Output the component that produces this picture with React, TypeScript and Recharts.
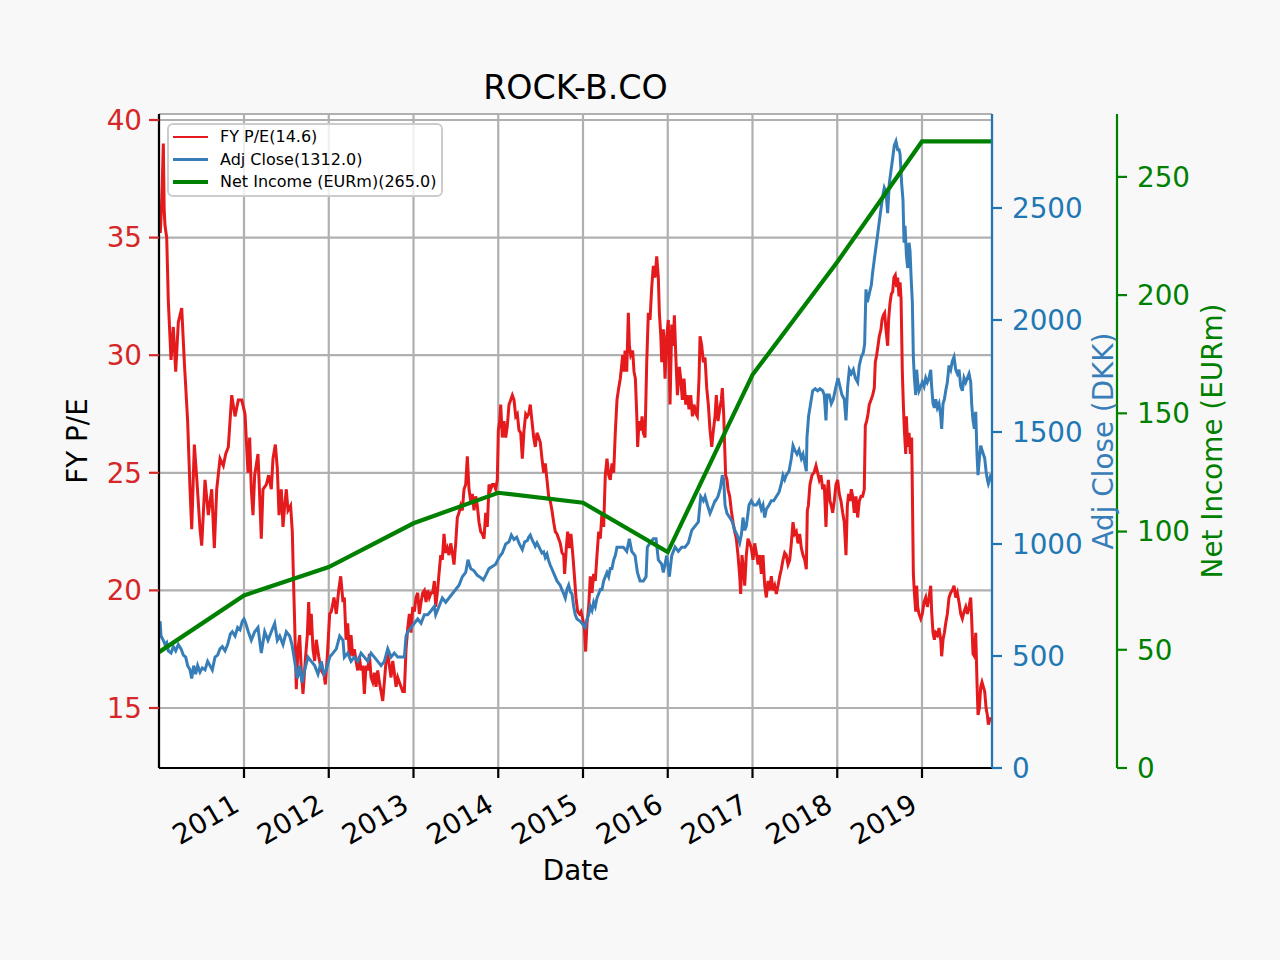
import { LineChart, Line, XAxis, YAxis, CartesianGrid } from 'recharts'

const FONT = '"DejaVu Sans", Verdana, sans-serif'

// x is a decimal year
const T0 = 2009.997
const T1 = 2019.826

const yearTicks = [2011, 2012, 2013, 2014, 2015, 2016, 2017, 2018, 2019]
const peTicks = [15, 20, 25, 30, 35, 40]
const closeTicks = [0, 500, 1000, 1500, 2000, 2500]
const niTicks = [0, 50, 100, 150, 200, 250]

const fyPE: [number, number][] = [
  [2009.997, 36.0], [2010.012, 35.2], [2010.021, 35.8], [2010.035, 37.2], [2010.048, 39.0], [2010.058, 36.2],
  [2010.068, 35.5], [2010.088, 35.0], [2010.107, 32.3], [2010.139, 29.8], [2010.166, 31.2], [2010.194, 29.3],
  [2010.225, 31.4], [2010.265, 32.0], [2010.296, 29.7], [2010.335, 27.2], [2010.363, 24.3], [2010.383, 22.6],
  [2010.414, 26.2], [2010.442, 24.8], [2010.481, 22.6], [2010.501, 21.9], [2010.540, 24.7], [2010.579, 23.2],
  [2010.619, 24.3], [2010.650, 21.8], [2010.678, 24.3], [2010.717, 25.6], [2010.756, 25.3], [2010.784, 25.8],
  [2010.815, 26.1], [2010.855, 28.3], [2010.894, 27.4], [2010.933, 28.1], [2010.973, 28.1], [2011.012, 27.5],
  [2011.047, 25.0], [2011.067, 26.5], [2011.086, 24.3], [2011.106, 23.2], [2011.126, 24.9], [2011.165, 25.8],
  [2011.185, 24.0], [2011.204, 22.2], [2011.224, 24.3], [2011.263, 24.5], [2011.291, 24.9], [2011.322, 24.3],
  [2011.342, 25.6], [2011.370, 26.2], [2011.393, 25.2], [2011.413, 23.2], [2011.440, 24.3], [2011.460, 22.7],
  [2011.480, 23.6], [2011.499, 24.3], [2011.519, 23.4], [2011.550, 23.6], [2011.570, 22.5], [2011.582, 20.7],
  [2011.598, 18.6], [2011.617, 15.8], [2011.637, 17.5], [2011.657, 18.1], [2011.676, 16.6], [2011.696, 15.6],
  [2011.723, 17.0], [2011.747, 18.1], [2011.763, 19.5], [2011.779, 18.1], [2011.794, 19.0], [2011.814, 17.5],
  [2011.834, 17.0], [2011.853, 17.9], [2011.881, 17.2], [2011.912, 16.6], [2011.944, 16.4], [2011.960, 16.0],
  [2011.983, 17.2], [2012.011, 19.0], [2012.030, 19.1], [2012.062, 19.7], [2012.089, 19.0], [2012.117, 20.0],
  [2012.141, 20.6], [2012.168, 19.5], [2012.184, 19.7], [2012.204, 17.9], [2012.224, 18.6], [2012.243, 17.2],
  [2012.263, 18.1], [2012.283, 17.2], [2012.302, 17.5], [2012.322, 17.0], [2012.342, 16.6], [2012.361, 17.2],
  [2012.381, 16.6], [2012.401, 16.8], [2012.420, 15.6], [2012.440, 16.8], [2012.460, 16.6], [2012.479, 17.3],
  [2012.499, 16.3], [2012.519, 16.1], [2012.538, 16.5], [2012.558, 15.9], [2012.578, 16.6], [2012.597, 16.1],
  [2012.617, 15.7], [2012.637, 15.3], [2012.656, 16.1], [2012.676, 17.0], [2012.696, 17.3], [2012.715, 16.8],
  [2012.735, 16.3], [2012.755, 17.0], [2012.774, 16.5], [2012.794, 15.9], [2012.814, 16.3], [2012.833, 16.1],
  [2012.853, 15.9], [2012.873, 15.7], [2012.892, 15.7], [2012.912, 17.5], [2012.932, 18.4], [2012.951, 19.0],
  [2012.971, 18.2], [2012.991, 19.3], [2013.010, 19.1], [2013.030, 19.7], [2013.050, 19.9], [2013.069, 19.0],
  [2013.089, 19.5], [2013.109, 19.9], [2013.128, 20.0], [2013.148, 19.5], [2013.168, 20.0], [2013.187, 19.7],
  [2013.207, 19.9], [2013.227, 19.9], [2013.246, 20.4], [2013.262, 19.3], [2013.281, 19.9], [2013.301, 20.7],
  [2013.321, 21.5], [2013.340, 21.3], [2013.360, 22.4], [2013.380, 21.6], [2013.399, 21.8], [2013.419, 21.5],
  [2013.439, 22.0], [2013.458, 21.6], [2013.478, 21.1], [2013.498, 22.0], [2013.517, 23.1], [2013.537, 23.3],
  [2013.557, 23.6], [2013.576, 23.4], [2013.596, 24.3], [2013.616, 24.5], [2013.635, 25.7], [2013.655, 24.3],
  [2013.675, 23.8], [2013.694, 24.1], [2013.714, 23.4], [2013.734, 24.0], [2013.753, 23.6], [2013.773, 22.9],
  [2013.793, 22.5], [2013.812, 22.4], [2013.832, 22.2], [2013.852, 23.3], [2013.871, 22.7], [2013.891, 24.5],
  [2013.911, 24.3], [2013.930, 24.5], [2013.950, 24.5], [2013.970, 24.3], [2013.989, 24.7], [2014.001, 26.8],
  [2014.017, 27.2], [2014.029, 27.9], [2014.048, 26.5], [2014.068, 27.2], [2014.088, 26.5], [2014.107, 27.0],
  [2014.127, 27.9], [2014.147, 28.1], [2014.166, 28.3], [2014.186, 28.1], [2014.206, 27.4], [2014.225, 27.5],
  [2014.245, 26.8], [2014.265, 26.7], [2014.284, 25.6], [2014.304, 26.8], [2014.324, 27.5], [2014.343, 27.4],
  [2014.359, 27.5], [2014.378, 27.9], [2014.398, 27.2], [2014.418, 26.5], [2014.437, 26.1], [2014.457, 26.7],
  [2014.477, 26.5], [2014.496, 26.3], [2014.516, 25.6], [2014.536, 25.0], [2014.555, 25.4], [2014.575, 24.7],
  [2014.595, 24.0], [2014.614, 23.8], [2014.634, 23.4], [2014.654, 22.9], [2014.673, 22.5], [2014.693, 22.4],
  [2014.713, 22.2], [2014.732, 22.0], [2014.752, 21.6], [2014.772, 21.5], [2014.783, 20.7], [2014.803, 21.8],
  [2014.819, 22.5], [2014.839, 21.8], [2014.858, 22.4], [2014.878, 21.6], [2014.897, 20.7], [2014.917, 19.7],
  [2014.937, 19.1], [2014.957, 19.0], [2014.976, 19.1], [2014.996, 18.8], [2015.016, 18.4], [2015.031, 17.4],
  [2015.047, 18.6], [2015.067, 19.3], [2015.086, 20.6], [2015.106, 19.9], [2015.126, 20.7], [2015.145, 20.4],
  [2015.165, 21.5], [2015.185, 22.5], [2015.204, 22.2], [2015.224, 23.3], [2015.244, 22.7], [2015.263, 24.9],
  [2015.283, 25.6], [2015.303, 24.9], [2015.322, 24.7], [2015.342, 25.4], [2015.362, 25.0], [2015.381, 26.7],
  [2015.401, 28.1], [2015.421, 28.6], [2015.440, 29.0], [2015.460, 29.7], [2015.468, 30.0], [2015.484, 29.3],
  [2015.496, 30.2], [2015.516, 29.3], [2015.535, 31.8], [2015.547, 30.4], [2015.563, 30.0], [2015.586, 30.2],
  [2015.602, 29.3], [2015.618, 29.0], [2015.634, 27.5], [2015.645, 26.1], [2015.661, 27.2], [2015.681, 26.8],
  [2015.697, 27.4], [2015.712, 26.7], [2015.732, 26.5], [2015.752, 29.7], [2015.771, 31.8], [2015.791, 31.5],
  [2015.811, 32.9], [2015.830, 33.8], [2015.850, 33.3], [2015.870, 34.2], [2015.889, 33.3], [2015.901, 31.8],
  [2015.917, 30.9], [2015.929, 29.7], [2015.948, 31.1], [2015.968, 29.0], [2015.988, 30.8], [2016.007, 31.5],
  [2016.027, 27.9], [2016.047, 31.3], [2016.066, 30.4], [2016.078, 31.7], [2016.098, 29.7], [2016.114, 28.3],
  [2016.137, 29.5], [2016.153, 29.0], [2016.172, 28.1], [2016.192, 29.0], [2016.212, 27.9], [2016.231, 28.3],
  [2016.251, 27.7], [2016.271, 28.3], [2016.291, 27.4], [2016.310, 27.9], [2016.334, 27.5], [2016.349, 27.4],
  [2016.369, 29.0], [2016.381, 30.8], [2016.401, 30.4], [2016.420, 29.7], [2016.440, 29.9], [2016.460, 28.6],
  [2016.479, 27.9], [2016.499, 26.8], [2016.519, 26.1], [2016.538, 26.8], [2016.558, 27.4], [2016.573, 28.3],
  [2016.593, 27.2], [2016.613, 27.7], [2016.632, 28.1], [2016.644, 28.6], [2016.660, 27.5], [2016.672, 26.1],
  [2016.683, 24.9], [2016.699, 24.7], [2016.711, 24.3], [2016.731, 24.0], [2016.750, 23.4], [2016.770, 22.9],
  [2016.790, 22.5], [2016.809, 22.2], [2016.829, 21.5], [2016.849, 20.6], [2016.860, 19.85], [2016.876, 21.5],
  [2016.888, 21.1], [2016.908, 20.2], [2016.927, 21.5], [2016.947, 22.2], [2016.967, 22.0], [2016.986, 21.8],
  [2017.006, 21.3], [2017.026, 22.0], [2017.045, 21.6], [2017.065, 21.1], [2017.085, 21.5], [2017.104, 20.7],
  [2017.124, 21.5], [2017.144, 20.2], [2017.163, 19.7], [2017.183, 20.4], [2017.203, 20.0], [2017.222, 20.6],
  [2017.242, 20.0], [2017.262, 20.2], [2017.281, 19.85], [2017.301, 20.2], [2017.321, 20.6], [2017.340, 20.9],
  [2017.360, 21.3], [2017.380, 21.6], [2017.399, 21.5], [2017.419, 21.1], [2017.439, 21.3], [2017.458, 22.0],
  [2017.478, 22.9], [2017.498, 22.4], [2017.517, 22.5], [2017.537, 22.0], [2017.557, 22.4], [2017.576, 21.8],
  [2017.596, 21.5], [2017.616, 21.3], [2017.635, 20.9], [2017.647, 23.4], [2017.659, 23.6], [2017.678, 24.5],
  [2017.702, 24.9], [2017.725, 25.0], [2017.749, 25.3], [2017.769, 25.0], [2017.788, 24.7], [2017.808, 24.9],
  [2017.828, 24.3], [2017.847, 24.5], [2017.867, 22.7], [2017.879, 24.0], [2017.895, 24.7], [2017.914, 23.8],
  [2017.930, 23.6], [2017.946, 23.3], [2017.965, 23.8], [2017.985, 24.5], [2018.005, 24.7], [2018.024, 24.1],
  [2018.044, 23.8], [2018.064, 23.3], [2018.083, 22.9], [2018.103, 21.5], [2018.119, 23.6], [2018.134, 24.1],
  [2018.150, 23.8], [2018.166, 24.3], [2018.182, 24.0], [2018.201, 23.3], [2018.221, 24.0], [2018.241, 23.1],
  [2018.260, 23.8], [2018.280, 24.0], [2018.300, 24.0], [2018.319, 24.3], [2018.331, 27.0], [2018.347, 27.2],
  [2018.363, 27.5], [2018.378, 27.9], [2018.398, 28.1], [2018.418, 28.3], [2018.437, 28.6], [2018.449, 29.7],
  [2018.465, 30.0], [2018.481, 30.4], [2018.496, 30.8], [2018.516, 31.1], [2018.528, 31.5], [2018.543, 31.7],
  [2018.559, 31.8], [2018.575, 31.1], [2018.595, 30.4], [2018.606, 31.5], [2018.622, 32.2], [2018.638, 32.6],
  [2018.654, 32.7], [2018.669, 33.3], [2018.685, 33.4], [2018.701, 32.9], [2018.713, 33.3], [2018.729, 32.5],
  [2018.741, 33.1], [2018.753, 32.4], [2018.768, 29.3], [2018.780, 27.9], [2018.792, 26.8], [2018.808, 25.8],
  [2018.816, 27.4], [2018.831, 26.1], [2018.847, 26.7], [2018.863, 25.8], [2018.878, 26.5], [2018.886, 24.3],
  [2018.898, 20.7], [2018.910, 19.9], [2018.926, 19.1], [2018.937, 20.2], [2018.949, 19.3], [2018.965, 19.0],
  [2018.985, 18.8], [2019.004, 19.0], [2019.024, 19.5], [2019.044, 19.7], [2019.063, 19.3], [2019.083, 19.7],
  [2019.103, 20.2], [2019.114, 19.1], [2019.130, 18.2], [2019.146, 17.9], [2019.162, 18.2], [2019.181, 18.1],
  [2019.201, 18.4], [2019.221, 17.9], [2019.232, 17.2], [2019.248, 17.9], [2019.264, 18.2], [2019.280, 18.6],
  [2019.299, 19.0], [2019.319, 19.7], [2019.339, 19.9], [2019.358, 20.0], [2019.378, 20.2], [2019.398, 19.7],
  [2019.417, 19.9], [2019.437, 19.5], [2019.457, 19.0], [2019.476, 18.8], [2019.496, 19.1], [2019.516, 19.3],
  [2019.535, 19.0], [2019.555, 19.3], [2019.575, 19.7], [2019.586, 18.8], [2019.602, 17.3], [2019.618, 17.2],
  [2019.634, 18.2], [2019.649, 16.1], [2019.661, 14.7], [2019.677, 15.0], [2019.693, 15.9], [2019.708, 16.1],
  [2019.724, 15.9], [2019.740, 15.7], [2019.756, 15.0], [2019.771, 14.7], [2019.783, 14.3], [2019.799, 14.5],
  [2019.815, 14.6],
]

const adjClose: [number, number][] = [
  [2009.997, 627], [2010.010, 655], [2010.021, 589], [2010.048, 570], [2010.068, 551], [2010.088, 560],
  [2010.107, 523], [2010.139, 513], [2010.166, 542], [2010.194, 523], [2010.225, 551], [2010.257, 532],
  [2010.284, 504], [2010.312, 495], [2010.335, 457], [2010.363, 438], [2010.383, 400], [2010.406, 457],
  [2010.430, 419], [2010.453, 457], [2010.481, 428], [2010.508, 447], [2010.540, 438], [2010.571, 476],
  [2010.599, 457], [2010.626, 438], [2010.658, 495], [2010.689, 504], [2010.717, 532], [2010.744, 542],
  [2010.776, 523], [2010.807, 551], [2010.839, 598], [2010.862, 608], [2010.894, 589], [2010.925, 627],
  [2010.953, 617], [2010.980, 655], [2011.000, 665], [2011.020, 646], [2011.051, 608], [2011.086, 570],
  [2011.126, 608], [2011.165, 627], [2011.204, 513], [2011.244, 608], [2011.283, 570], [2011.322, 608],
  [2011.362, 646], [2011.393, 570], [2011.421, 589], [2011.460, 551], [2011.499, 608], [2011.539, 589],
  [2011.566, 551], [2011.598, 476], [2011.629, 400], [2011.657, 457], [2011.684, 381], [2011.716, 438],
  [2011.755, 495], [2011.794, 476], [2011.834, 457], [2011.873, 419], [2011.912, 476], [2011.944, 419],
  [2011.971, 438], [2012.011, 495], [2012.050, 513], [2012.089, 532], [2012.129, 589], [2012.168, 570],
  [2012.184, 495], [2012.224, 513], [2012.263, 476], [2012.302, 495], [2012.342, 476], [2012.381, 513],
  [2012.420, 495], [2012.460, 476], [2012.499, 513], [2012.538, 495], [2012.578, 476], [2012.617, 457],
  [2012.656, 476], [2012.696, 532], [2012.735, 495], [2012.774, 513], [2012.814, 495], [2012.853, 495],
  [2012.892, 495], [2012.912, 589], [2012.932, 608], [2012.971, 627], [2013.010, 646], [2013.050, 665],
  [2013.089, 646], [2013.128, 684], [2013.168, 684], [2013.207, 702], [2013.246, 721], [2013.262, 684],
  [2013.301, 721], [2013.340, 759], [2013.380, 740], [2013.419, 759], [2013.458, 778], [2013.498, 797],
  [2013.537, 816], [2013.576, 854], [2013.616, 873], [2013.643, 930], [2013.675, 890], [2013.714, 880],
  [2013.753, 860], [2013.793, 850], [2013.824, 840], [2013.852, 860], [2013.891, 890], [2013.930, 900],
  [2013.970, 910], [2014.009, 940], [2014.048, 960], [2014.088, 1000], [2014.127, 1010], [2014.155, 1040],
  [2014.186, 1020], [2014.218, 1030], [2014.249, 1000], [2014.284, 975], [2014.312, 1010], [2014.343, 1015],
  [2014.359, 1030], [2014.378, 1040], [2014.398, 1020], [2014.418, 1005], [2014.437, 990], [2014.457, 1005],
  [2014.477, 990], [2014.496, 975], [2014.516, 960], [2014.536, 965], [2014.555, 940], [2014.575, 955],
  [2014.595, 925], [2014.614, 905], [2014.654, 870], [2014.693, 835], [2014.732, 815], [2014.752, 795],
  [2014.772, 778], [2014.791, 759], [2014.811, 797], [2014.831, 816], [2014.850, 787], [2014.870, 778],
  [2014.890, 721], [2014.909, 684], [2014.929, 665], [2014.968, 655], [2014.988, 646], [2015.008, 636],
  [2015.027, 627], [2015.047, 665], [2015.067, 684], [2015.086, 721], [2015.106, 703], [2015.126, 740],
  [2015.145, 721], [2015.165, 759], [2015.185, 778], [2015.204, 797], [2015.224, 797], [2015.244, 835],
  [2015.263, 854], [2015.283, 873], [2015.303, 854], [2015.322, 891], [2015.342, 891], [2015.362, 929],
  [2015.381, 948], [2015.401, 986], [2015.440, 986], [2015.476, 986], [2015.516, 967], [2015.547, 1023],
  [2015.575, 967], [2015.614, 948], [2015.642, 873], [2015.673, 835], [2015.712, 835], [2015.744, 854],
  [2015.759, 986], [2015.791, 1005], [2015.830, 1023], [2015.862, 1023], [2015.889, 929], [2015.929, 910],
  [2015.948, 873], [2015.988, 948], [2016.019, 854], [2016.047, 948], [2016.086, 986], [2016.125, 967],
  [2016.165, 986], [2016.204, 986], [2016.243, 1005], [2016.283, 1061], [2016.322, 1080], [2016.361, 1099],
  [2016.389, 1212], [2016.420, 1193], [2016.440, 1212], [2016.468, 1174], [2016.499, 1137], [2016.519, 1155],
  [2016.558, 1193], [2016.565, 1193], [2016.593, 1212], [2016.621, 1250], [2016.644, 1307], [2016.660, 1288],
  [2016.676, 1174], [2016.699, 1137], [2016.731, 1118], [2016.762, 1099], [2016.790, 1061], [2016.817, 1042],
  [2016.849, 1005], [2016.869, 1042], [2016.888, 1118], [2016.908, 1061], [2016.927, 1080], [2016.959, 1174],
  [2016.986, 1193], [2017.014, 1174], [2017.045, 1174], [2017.077, 1193], [2017.104, 1155], [2017.124, 1174],
  [2017.144, 1118], [2017.163, 1155], [2017.195, 1174], [2017.222, 1193], [2017.250, 1193], [2017.281, 1212],
  [2017.313, 1231], [2017.340, 1269], [2017.360, 1307], [2017.380, 1288], [2017.399, 1307], [2017.431, 1325],
  [2017.458, 1382], [2017.478, 1439], [2017.498, 1420], [2017.525, 1401], [2017.549, 1420], [2017.576, 1382],
  [2017.596, 1401], [2017.616, 1363], [2017.635, 1325], [2017.643, 1476], [2017.662, 1571], [2017.686, 1627],
  [2017.710, 1684], [2017.741, 1693], [2017.769, 1684], [2017.796, 1693], [2017.828, 1684], [2017.847, 1665],
  [2017.867, 1552], [2017.879, 1665], [2017.906, 1665], [2017.930, 1627], [2017.953, 1646], [2017.985, 1703],
  [2018.009, 1741], [2018.032, 1703], [2018.056, 1665], [2018.083, 1646], [2018.103, 1552], [2018.123, 1703],
  [2018.142, 1778], [2018.166, 1760], [2018.190, 1778], [2018.213, 1741], [2018.241, 1722], [2018.260, 1797],
  [2018.284, 1835], [2018.307, 1854], [2018.323, 1892], [2018.339, 2137], [2018.355, 2080], [2018.378, 2118],
  [2018.402, 2156], [2018.418, 2213], [2018.437, 2269], [2018.457, 2326], [2018.477, 2383], [2018.496, 2439],
  [2018.516, 2496], [2018.536, 2552], [2018.555, 2590], [2018.575, 2571], [2018.595, 2477], [2018.614, 2609],
  [2018.634, 2666], [2018.654, 2722], [2018.673, 2779], [2018.693, 2798], [2018.713, 2760], [2018.729, 2760],
  [2018.741, 2741], [2018.760, 2609], [2018.776, 2534], [2018.788, 2345], [2018.800, 2420], [2018.816, 2288],
  [2018.831, 2232], [2018.847, 2345], [2018.859, 2307], [2018.871, 2194], [2018.886, 2080], [2018.898, 1835],
  [2018.910, 1741], [2018.926, 1665], [2018.937, 1778], [2018.949, 1722], [2018.965, 1684], [2018.985, 1703],
  [2019.004, 1722], [2019.024, 1703], [2019.044, 1741], [2019.063, 1722], [2019.083, 1741], [2019.103, 1778],
  [2019.114, 1703], [2019.130, 1627], [2019.146, 1608], [2019.162, 1646], [2019.181, 1608], [2019.201, 1627],
  [2019.221, 1571], [2019.232, 1514], [2019.248, 1627], [2019.264, 1646], [2019.280, 1684], [2019.299, 1722],
  [2019.319, 1797], [2019.339, 1778], [2019.358, 1816], [2019.378, 1835], [2019.398, 1778], [2019.417, 1760],
  [2019.437, 1778], [2019.457, 1703], [2019.476, 1684], [2019.496, 1741], [2019.516, 1722], [2019.535, 1741],
  [2019.555, 1760], [2019.575, 1722], [2019.586, 1627], [2019.602, 1552], [2019.618, 1514], [2019.634, 1590],
  [2019.649, 1401], [2019.661, 1307], [2019.677, 1382], [2019.693, 1439], [2019.708, 1420], [2019.724, 1401],
  [2019.740, 1382], [2019.756, 1325], [2019.771, 1288], [2019.783, 1269], [2019.799, 1288], [2019.815, 1312],
]

const netIncome: [number, number][] = [
  [2009.997, 49], [2011.0, 73], [2012.0, 85], [2013.0, 103.5], [2014.0, 116.4], [2015.0, 112.2],
  [2016.0, 91.3], [2017.0, 166.3], [2018.0, 214], [2019.0, 265], [2019.826, 265],
]

type Row = { t: number; pe?: number; close?: number; ni?: number }

const byT = new Map<number, Row>()
const put = (arr: [number, number][], key: 'pe' | 'close' | 'ni') =>
  arr.forEach(([t, v]) => {
    const r = byT.get(t) ?? { t }
    r[key] = v
    byT.set(t, r)
  })
put(fyPE, 'pe')
put(adjClose, 'close')
put(netIncome, 'ni')
const rows = [...byT.values()].sort((a, b) => a.t - b.t)

const RED = '#e41a1c'
const BLUE = '#377eb8'
const GREEN = '#008000'

function YearTick({ x, y, payload }: any) {
  return (
    <g transform={`translate(${x - 3},${y + 32}) rotate(-30)`}>
      <text textAnchor="end" fontSize={27.8} fontFamily={FONT} fill="#000">{payload.value}</text>
    </g>
  )
}

const legendRows = [
  { label: 'FY P/E(14.6)', color: RED, w: 2.8 },
  { label: 'Adj Close(1312.0)', color: BLUE, w: 2.8 },
  { label: 'Net Income (EURm)(265.0)', color: GREEN, w: 4.2 },
]

const abs = (left: number, top: number, extra: React.CSSProperties = {}): React.CSSProperties => ({
  position: 'absolute', left, top, whiteSpace: 'nowrap', lineHeight: 1, ...extra,
})

export default function App() {
  return (
    <div style={{ position: 'absolute', left: 0, top: 0, width: 1280, height: 960, background: '#f8f8f8', fontFamily: FONT }}>
      <LineChart width={1280} height={960} data={rows} margin={{ top: 114, right: 0, bottom: 0, left: 0 }}>
        <CartesianGrid xAxisId="x" yAxisId="pe" stroke="#b0b0b0" strokeWidth={2.2} fill="#ffffff" fillOpacity={1} />
        <XAxis
          xAxisId="x" dataKey="t" type="number" domain={[T0, T1]} ticks={yearTicks} interval={0}
          allowDataOverflow height={192} tickSize={10} tickMargin={0}
          tickLine={{ stroke: '#000', strokeWidth: 2.2 }} axisLine={{ stroke: '#000', strokeWidth: 2.2 }}
          tick={(p: any) => <YearTick {...p} />}
        />
        <XAxis
          xAxisId="top" orientation="top" dataKey="t" type="number" domain={[T0, T1]} allowDataOverflow
          height={0} tick={false} tickLine={false} axisLine={{ stroke: '#000', strokeWidth: 2.2 }}
        />
        <YAxis
          yAxisId="pe" orientation="left" width={159} domain={[12.449, 40.255]} ticks={peTicks} interval={0}
          allowDataOverflow tickSize={10} tickMargin={7}
          tickLine={{ stroke: '#d62728', strokeWidth: 2.2 }} axisLine={{ stroke: '#000', strokeWidth: 2.2 }}
          tick={{ fill: '#d62728', fontSize: 27.8, fontFamily: FONT }}
        />
        <YAxis
          yAxisId="close" orientation="right" width={125} domain={[0, 2919.6]} ticks={closeTicks} interval={0}
          allowDataOverflow tickSize={10} tickMargin={10}
          tickLine={{ stroke: '#1f77b4', strokeWidth: 2.2 }} axisLine={{ stroke: '#1f77b4', strokeWidth: 2.2 }}
          tick={{ fill: '#1f77b4', fontSize: 27.8, fontFamily: FONT, textAnchor: 'start' }}
        />
        <YAxis
          yAxisId="ni" orientation="right" width={163} domain={[0, 276.6]} ticks={niTicks} interval={0}
          allowDataOverflow tickSize={10} tickMargin={10}
          tickLine={{ stroke: GREEN, strokeWidth: 2.2 }} axisLine={{ stroke: GREEN, strokeWidth: 2.2 }}
          tick={{ fill: GREEN, fontSize: 27.8, fontFamily: FONT, textAnchor: 'start' }}
        />
        <Line xAxisId="x" yAxisId="pe" dataKey="pe" type="linear" stroke={RED} strokeWidth={3} dot={false} connectNulls isAnimationActive={false} />
        <Line xAxisId="x" yAxisId="close" dataKey="close" type="linear" stroke={BLUE} strokeWidth={3} dot={false} connectNulls isAnimationActive={false} />
        <Line xAxisId="x" yAxisId="ni" dataKey="ni" type="linear" stroke={GREEN} strokeWidth={4.2} dot={false} connectNulls isAnimationActive={false} />
      </LineChart>

      <div style={abs(575.5, 88, { transform: 'translate(-50%, -50%)', fontSize: 33.3, color: '#000' })}>ROCK-B.CO</div>
      <div style={abs(576, 871, { transform: 'translate(-50%, -50%)', fontSize: 27.8, color: '#000' })}>Date</div>
      <div style={abs(78, 441, { transform: 'translate(-50%, -50%) rotate(-90deg)', fontSize: 27.8, color: '#000' })}>FY P/E</div>
      <div style={abs(1104, 441, { transform: 'translate(-50%, -50%) rotate(-90deg)', fontSize: 27.8, color: BLUE })}>Adj Close (DKK)</div>
      <div style={abs(1213, 441, { transform: 'translate(-50%, -50%) rotate(-90deg)', fontSize: 27.8, color: GREEN })}>Net Income (EURm)</div>

      <div style={{
        position: 'absolute', left: 167, top: 123, width: 276, height: 74, boxSizing: 'border-box',
        background: 'rgba(255,255,255,0.8)', border: '2px solid #cccccc', borderRadius: 6,
      }}>
        {legendRows.map((r, i) => (
          <div key={r.label} style={{ position: 'absolute', left: 0, top: 12 + i * 22.5, height: 0 }}>
            <div style={{ position: 'absolute', left: 4, top: -r.w / 2, width: 35, height: r.w, background: r.color }} />
            <div style={abs(51, 0, { transform: 'translateY(-50%)', fontSize: 16, color: '#000' })}>{r.label}</div>
          </div>
        ))}
      </div>
    </div>
  )
}
